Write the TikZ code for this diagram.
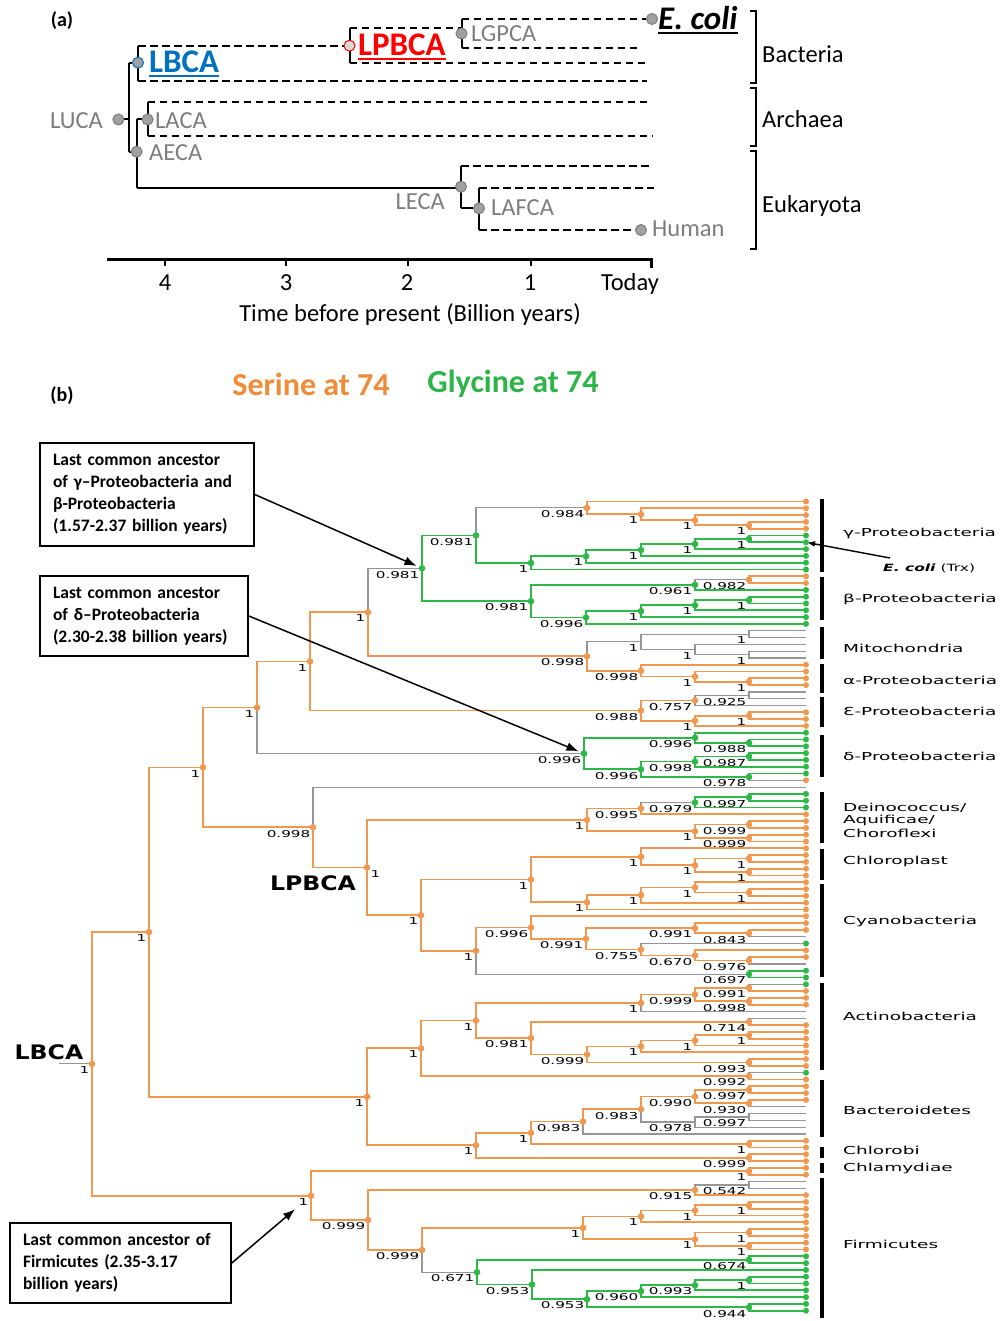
\documentclass[tikz,border=0pt]{standalone}
\usepackage{fontspec}
\usepackage{graphicx}
\setmainfont{Carlito}
\newfontfamily\dvs{DejaVu Sans}
\usetikzlibrary{calc,arrows.meta}
\pgfdeclarelayer{fg}
\pgfsetlayers{main,fg}
\definecolor{colO}{RGB}{241,152,80}
\definecolor{colG}{RGB}{46,184,72}
\definecolor{colN}{RGB}{150,150,150}
\definecolor{tO}{RGB}{240,140,55}
\definecolor{tG}{RGB}{45,180,70}
\definecolor{agray}{RGB}{125,125,125}
\definecolor{adotf}{RGB}{160,160,160}
\definecolor{ablue}{RGB}{0,112,192}
\definecolor{ared}{RGB}{255,0,0}
\def\tmpN{N}
\tikzset{
 brO/.style={draw=colO, line width=1.7pt},
 brG/.style={draw=colG, line width=1.7pt},
 brN/.style={draw=colN, line width=1.2pt},
 dtO/.style={fill=colO},
 dtG/.style={fill=colG},
 dtN/.style={},
 tl/.style={anchor=north east, inner sep=0pt, xshift=-2.5pt, yshift=-2.5pt, font=\dvs\fontsize{9.5}{10}\selectfont},
 clt/.style={anchor=west, inner sep=0pt, font=\dvs\fontsize{11}{12}\selectfont},
 cbar/.style={line width=3.6pt},
 box/.style={draw, line width=1.6pt, align=left, inner xsep=13pt, font=\bfseries\fontsize{17.5}{22}\selectfont},
 arr/.style={-{Latex[length=12pt,width=9pt]}, line width=1.5pt},
 adash/.style={line width=2pt, dash pattern=on 7.5pt off 4.5pt},
 asol/.style={line width=2pt},
 adot/.style={circle, inner sep=0pt, minimum size=11pt, fill=adotf, draw=agray, line width=1pt},
 atxt/.style={inner sep=0pt, font=\fontsize{24.5}{27}\selectfont},
 bigb/.style={inner sep=0pt, font=\bfseries\fontsize{33}{35}\selectfont},
}
\newcommand\tn[8]{%
 \coordinate (tmpa) at ($(#5)!0.5!(#7)$);%
 \coordinate (tmpb) at (#2,0);%
 \coordinate (#1) at (tmpb |- tmpa);%
 \draw[#6] (#1) |- (#5);%
 \draw[#8] (#1) |- (#7);%
 \begin{pgfonlayer}{fg}\path[#3] (#1) circle (3.3pt);\end{pgfonlayer}%
 \node[tl] (lab#1) at (#1) {\scalebox{1.6}[1]{#4}};%
}
\newcommand\clab[3]{\node[clt] (#1) at (843,#2) {\scalebox{1.68}[1]{#3}};}
\begin{document}
\begin{tikzpicture}[x=1pt,y=-1pt]
\useasboundingbox (0,0) rectangle (1008,1321);
\fill[white] (0,0) rectangle (1008,1321);

% ================= Panel (a) =================
\node[inner sep=0pt, font=\bfseries\fontsize{20}{22}\selectfont] (pa) at (62,21) {(a)};
\begin{pgfonlayer}{fg}
\node[adot] (dEcoli) at (652,19) {};
\node[adot] (dLGPCA) at (461.5,33.5) {};
\node[adot, fill=gray!30, draw=ared] (dLPBCA) at (349.5,45.7) {};
\node[adot, draw=ablue] (dLBCA) at (138,62.7) {};
\node[adot] (dLUCA) at (118.4,119.5) {};
\node[adot] (dLACA) at (147.6,119.5) {};
\node[adot] (dAECA) at (136.6,151.7) {};
\node[adot] (dLECA) at (461,186.7) {};
\node[adot] (dLAFCA) at (479,208.3) {};
\node[adot] (dHuman) at (641,230) {};
\end{pgfonlayer}
\coordinate (vLUCA) at (129,119.5);
\draw[asol] (dLUCA) -- (vLUCA);
\draw[asol] (dLBCA -| vLUCA) -- (dAECA -| vLUCA);
\draw[asol] (dLBCA -| vLUCA) -- (dLBCA);
\draw[asol] (dAECA -| vLUCA) -- (dAECA);
% LBCA
\coordinate (lbT) at (138,45.7); \coordinate (lbB) at (138,80.7); \coordinate (eB1) at (647,80.7);
\draw[asol] (lbT) -- (lbB);
\draw[adash] (lbT) -- (dLPBCA);
\draw[adash] (lbB) -- (eB1);
% LPBCA
\coordinate (lpT) at (349.5,28.3); \coordinate (lpB) at (349.5,62.7); \coordinate (eB2) at (647,62.7);
\draw[asol] (lpT) -- (lpB);
\draw[adash] (lpT) -- (lpT -| dLGPCA);
\draw[adash] (lpB) -- (eB2);
% LGPCA
\coordinate (lgT) at (461.5,19); \coordinate (lgB) at (461.5,48.3); \coordinate (eB3) at (641,48.3);
\draw[asol] (lgT) -- (lgB);
\draw[adash] (lgT) -- (dEcoli);
\draw[adash] (lgB) -- (eB3);
% AECA
\coordinate (aeT) at (136.6,119.5); \coordinate (aeB) at (136.6,187.7);
\draw[asol] (aeT) -- (aeB);
\draw[asol] (aeT) -- (dLACA);
\draw[asol] (aeB) -- (aeB -| dLECA);
% LACA
\coordinate (laT) at (147.6,102.3); \coordinate (laB) at (147.6,136); \coordinate (eA1) at (647,102.3); \coordinate (eA2) at (652,136);
\draw[asol] (laT) -- (laB);
\draw[adash] (laT) -- (eA1);
\draw[adash] (laB) -- (eA2);
% LECA
\coordinate (leT) at (461,165.7); \coordinate (leB) at (461,208.3); \coordinate (eE1) at (652,165.7);
\draw[asol] (leT) -- (leB);
\draw[adash] (leT) -- (eE1);
\draw[asol] (leB) -- (dLAFCA);
% LAFCA
\coordinate (lfT) at (479,187.7); \coordinate (lfB) at (479,230); \coordinate (eE2) at (654,187.7);
\draw[asol] (lfT) -- (lfB);
\draw[adash] (lfT) -- (eE2);
\draw[adash] (lfB) -- (dHuman);
% labels
\node[atxt, text=agray, anchor=east] (tLUCA) at (103,121) {LUCA};
\node[atxt, text=agray, anchor=west] (tLACA) at (155,121) {LACA};
\node[atxt, text=agray, anchor=west] (tAECA) at (149,153) {AECA};
\node[atxt, text=agray, anchor=west] (tLGPCA) at (471,34) {LGPCA};
\node[atxt, text=agray, anchor=east] (tLECA) at (445,202) {LECA};
\node[atxt, text=agray, anchor=west] (tLAFCA) at (491,208) {LAFCA};
\node[atxt, text=agray, anchor=west] (tHuman) at (652,229) {Human};
\node[bigb, text=ablue, anchor=west] (tLBCA) at (149,62) {LBCA};
\draw[ablue, line width=1.6pt] ([yshift=-3pt]tLBCA.south west) -- ([yshift=-3pt]tLBCA.south east);
\node[bigb, text=ared, anchor=west] (tLPBCA) at (358,45) {LPBCA};
\draw[ared, line width=1.6pt] ([yshift=-3pt]tLPBCA.south west) -- ([yshift=-3pt]tLPBCA.south east);
\node[bigb, font=\bfseries\itshape\fontsize{33}{35}\selectfont, anchor=west] (tEcoli) at (658,18) {E. coli};
\draw[line width=1.6pt] ([yshift=-3pt]tEcoli.south west) -- ([yshift=-3pt]tEcoli.south east);
% brackets
\draw[line width=1.8pt] (750,11) -- (756,11) -- (756,83.3) -- (750,83.3);
\draw[line width=1.8pt] (750,88.3) -- (756,88.3) -- (756,145.7) -- (750,145.7);
\draw[line width=1.8pt] (750,151) -- (756,151) -- (756,249.3) -- (750,249.3);
\node[atxt, anchor=west] (tBac) at (762,54) {Bacteria};
\node[atxt, anchor=west] (tArc) at (762,119) {Archaea};
\node[atxt, anchor=west] (tEuk) at (762,206) {Eukaryota};
% axis
\coordinate (axL) at (107,259.5); \coordinate (axR) at (652,259.5);
\draw[line width=2.6pt] (axL) -- (axR);
\foreach \xx in {165,286,408,530.7} \draw[line width=2pt] (\xx,259.5) -- (\xx,266);
\draw[line width=2.4pt] (651.5,258.5) -- (651.5,268);
\node[atxt] (k4) at (165,283) {4};
\node[atxt] (k3) at (286,283) {3};
\node[atxt] (k2) at (407,283) {2};
\node[atxt] (k1) at (530,283) {1};
\node[atxt] (kT) at (630,284) {Today};
\node[atxt] (cap) at (410,315) {Time before present (Billion years)};

% ================= Panel (b) =================
\node[inner sep=0pt, font=\bfseries\fontsize{20}{22}\selectfont] (pb) at (62,396) {(b)};
\node[inner sep=0pt, font=\bfseries\fontsize{32}{34}\selectfont, text=tO] (serine) at (311,384) {Serine at 74};
\node[inner sep=0pt, font=\bfseries\fontsize{32}{34}\selectfont, text=tG] (glycine) at (513,384) {Glycine at 74};

% leaves
\foreach \c [count=\i from 0] in {O,O,O,O,O,G,G,G,G,G,G,O,O,G,G,G,G,G,G,N,N,N,N,N,O,O,O,O,N,N,N,O,O,O,G,G,G,G,G,G,G,O,N,G,G,G,%
O,O,O,O,O,O,O,O,O,O,O,O,O,O,O,O,O,O,N,G,O,O,N,G,G,G,O,O,O,N,N,O,O,O,O,O,O,O,G,O,O,O,O,N,N,N,N,N,O,O,O,O,O,O,N,N,%
O,O,O,O,O,O,O,O,O,G,G,G,G,G,G,G,G,G}{%
 \coordinate (L\i) at (806,{501.5+6.8*\i});%
 \ifx\c\tmpN\else\begin{pgfonlayer}{fg}\fill[col\c] (L\i) circle (3pt);\end{pgfonlayer}\fi
}

% gamma
\tn{o1}{749}{dtO}{1}{L3}{brO}{L4}{brO}
\tn{o2}{695}{dtO}{1}{L2}{brO}{o1}{brO}
\tn{o3}{641}{dtO}{1}{L1}{brO}{o2}{brO}
\tn{o4}{587}{dtO}{0.984}{L0}{brO}{o3}{brO}
\tn{g1}{749}{dtG}{1}{L5}{brG}{L6}{brG}
\tn{g2}{695}{dtG}{1}{g1}{brG}{L7}{brG}
\tn{g3}{641}{dtG}{1}{g2}{brG}{L8}{brG}
\tn{g4}{586}{dtG}{1}{g3}{brG}{L9}{brG}
\tn{g5}{531}{dtG}{1}{g4}{brG}{L10}{brG}
\tn{g6}{476}{dtG}{0.981}{o4}{brN}{g5}{brG}
% beta
\tn{b1}{749}{dtO}{0.982}{L11}{brO}{L12}{brO}
\tn{b2}{695}{dtG}{0.961}{b1}{brN}{L13}{brG}
\tn{b3}{749}{dtG}{1}{L14}{brG}{L15}{brG}
\tn{b4}{695}{dtG}{1}{b3}{brG}{L16}{brG}
\tn{b5}{641}{dtG}{1}{b4}{brG}{L17}{brG}
\tn{b6}{586}{dtG}{0.996}{b5}{brG}{L18}{brG}
\tn{b7}{531}{dtG}{0.981}{b2}{brG}{b6}{brG}
\tn{gb}{422}{dtG}{0.981}{g6}{brG}{b7}{brG}
% mitochondria / alpha
\tn{m1}{749}{dtN}{1}{L19}{brN}{L20}{brN}
\tn{m2}{749}{dtN}{1}{L22}{brN}{L23}{brN}
\tn{m3}{695}{dtN}{1}{L21}{brN}{m2}{brN}
\tn{m4}{641}{dtN}{1}{m1}{brN}{m3}{brN}
\tn{a1}{749}{dtO}{1}{L26}{brO}{L27}{brO}
\tn{a2}{695}{dtO}{1}{L25}{brO}{a1}{brO}
\tn{a3}{641}{dtO}{0.998}{L24}{brO}{a2}{brO}
\tn{ma}{587}{dtO}{0.998}{m4}{brN}{a3}{brO}
\tn{p1}{368}{dtO}{1}{gb}{brN}{ma}{brO}
% epsilon
\tn{e1}{749}{dtN}{0.925}{L28}{brN}{L29}{brN}
\tn{e2}{695}{dtO}{0.757}{e1}{brN}{L30}{brN}
\tn{e3}{749}{dtO}{1}{L31}{brO}{L32}{brO}
\tn{e4}{695}{dtO}{1}{e3}{brO}{L33}{brO}
\tn{e5}{641}{dtO}{0.988}{e2}{brO}{e4}{brO}
\tn{p2}{310}{dtO}{1}{p1}{brO}{e5}{brO}
% delta
\tn{d1}{749}{dtG}{0.988}{L35}{brG}{L36}{brG}
\tn{d2}{695}{dtG}{0.996}{L34}{brG}{d1}{brG}
\tn{d3}{749}{dtG}{0.987}{L37}{brG}{L38}{brG}
\tn{d4}{695}{dtG}{0.998}{d3}{brG}{L39}{brG}
\tn{d5}{749}{dtG}{0.978}{L40}{brG}{L41}{brN}
\tn{d6}{641}{dtG}{0.996}{d4}{brG}{d5}{brG}
\tn{d7}{584}{dtG}{0.996}{d2}{brG}{d6}{brG}
\tn{p3}{257}{dtO}{1}{p2}{brO}{d7}{brN}
% deinococcus
\tn{n1}{749}{dtG}{0.997}{L43}{brG}{L44}{brG}
\tn{n2}{695}{dtG}{0.979}{n1}{brG}{L45}{brG}
\tn{n3}{641}{dtO}{0.995}{n2}{brN}{L46}{brO}
\tn{c1}{749}{dtO}{0.999}{L47}{brO}{L48}{brO}
\tn{c2}{749}{dtO}{0.999}{L49}{brO}{L50}{brO}
\tn{c3}{695}{dtO}{1}{c1}{brO}{c2}{brO}
\tn{n4}{587}{dtO}{1}{n3}{brO}{c3}{brO}
% chloroplast
\tn{h1}{749}{dtO}{1}{L52}{brO}{L53}{brO}
\tn{h2}{749}{dtO}{1}{L54}{brO}{L55}{brO}
\tn{h3}{695}{dtO}{1}{h1}{brO}{h2}{brO}
\tn{h4}{641}{dtO}{1}{L51}{brO}{h3}{brO}
\tn{k1}{749}{dtO}{1}{L57}{brO}{L58}{brO}
\tn{k2}{695}{dtO}{1}{L56}{brO}{k1}{brO}
\tn{k3}{641}{dtO}{1}{k2}{brO}{L59}{brO}
\tn{k4}{587}{dtO}{1}{k3}{brO}{L60}{brO}
\tn{h5}{531}{dtO}{1}{h4}{brO}{k4}{brO}
% cyanobacteria
\tn{y1}{749}{dtO}{0.843}{L63}{brO}{L64}{brN}
\tn{y2}{695}{dtO}{0.991}{L62}{brO}{y1}{brO}
\tn{y3}{749}{dtO}{0.976}{L67}{brO}{L68}{brN}
\tn{y4}{695}{dtO}{0.670}{L66}{brO}{y3}{brO}
\tn{y5}{641}{dtO}{0.755}{L65}{brN}{y4}{brO}
\tn{y6}{586}{dtO}{0.991}{y2}{brO}{y5}{brO}
\tn{y7}{531}{dtO}{0.996}{L61}{brO}{y6}{brO}
\tn{y8}{749}{dtG}{0.697}{L69}{brG}{L70}{brG}
\tn{y9}{476}{dtO}{1}{y7}{brO}{y8}{brN}
\tn{y10}{421}{dtO}{1}{h5}{brO}{y9}{brO}
\tn{n5}{367}{dtO}{}{n4}{brO}{y10}{brO}
\node[tl, anchor=north west, xshift=6pt] (labn5b) at (n5) {\scalebox{1.6}[1]{1}};
\tn{p4}{313}{dtO}{0.998}{L42}{brN}{n5}{brO}
\tn{p5}{203}{dtO}{1}{p3}{brO}{p4}{brO}
% actinobacteria
\tn{t1}{749}{dtO}{0.991}{L71}{brN}{L72}{brO}
\tn{t2}{749}{dtO}{0.998}{L73}{brO}{L74}{brO}
\tn{t3}{695}{dtO}{0.999}{t1}{brO}{t2}{brO}
\tn{t4}{641}{dtO}{1}{t3}{brO}{L75}{brN}
\tn{t5}{749}{dtO}{0.714}{L76}{brN}{L77}{brO}
\tn{t6}{749}{dtO}{1}{L78}{brO}{L79}{brO}
\tn{t7}{695}{dtO}{1}{t6}{brO}{L80}{brO}
\tn{t8}{641}{dtO}{1}{t7}{brO}{L81}{brO}
\tn{t9}{749}{dtO}{0.993}{L82}{brO}{L83}{brO}
\tn{t10}{587}{dtO}{0.999}{t8}{brO}{t9}{brO}
\tn{t11}{531}{dtO}{0.981}{t5}{brO}{t10}{brO}
\tn{t12}{476}{dtO}{1}{t4}{brO}{t11}{brO}
\tn{t13}{749}{dtO}{0.992}{L84}{brN}{L85}{brO}
\tn{t14}{421}{dtO}{1}{t12}{brO}{t13}{brO}
% bacteroidetes, chlorobi, chlamydiae
\tn{r1}{749}{dtO}{0.997}{L86}{brO}{L87}{brO}
\tn{r2}{749}{dtO}{0.930}{L88}{brO}{L89}{brN}
\tn{r3}{695}{dtO}{0.990}{r1}{brO}{r2}{brO}
\tn{r4}{749}{dtN}{0.997}{L90}{brN}{L91}{brN}
\tn{r5}{695}{dtN}{0.978}{r4}{brN}{L92}{brN}
\tn{r6}{641}{dtO}{0.983}{r3}{brO}{r5}{brN}
\tn{r7}{583}{dtO}{0.983}{r6}{brO}{L93}{brN}
\tn{r8}{749}{dtO}{1}{L94}{brO}{L95}{brO}
\tn{r9}{531}{dtO}{1}{r7}{brO}{r8}{brO}
\tn{r10}{749}{dtO}{0.999}{L96}{brO}{L97}{brO}
\tn{r11}{476}{dtO}{1}{r9}{brO}{r10}{brO}
\tn{t15}{367}{dtO}{1}{t14}{brO}{r11}{brO}
% firmicutes
\tn{f0}{749}{dtO}{1}{L98}{brO}{L99}{brO}
\tn{f1}{749}{dtN}{0.542}{L100}{brN}{L101}{brN}
\tn{f2}{695}{dtO}{0.915}{f1}{brN}{L102}{brO}
\tn{f3}{749}{dtO}{1}{L103}{brO}{L104}{brO}
\tn{f4}{695}{dtO}{1}{f3}{brO}{L105}{brO}
\tn{f5}{641}{dtO}{1}{f4}{brO}{L106}{brO}
\tn{f6}{749}{dtO}{1}{L107}{brO}{L108}{brO}
\tn{f7}{749}{dtO}{1}{L109}{brO}{L110}{brO}
\tn{f8}{695}{dtO}{1}{f6}{brO}{f7}{brO}
\tn{f9}{583}{dtO}{1}{f5}{brO}{f8}{brO}
\tn{q1}{749}{dtG}{0.674}{L111}{brG}{L112}{brG}
\tn{q2}{749}{dtG}{1}{L114}{brG}{L115}{brG}
\tn{q3}{695}{dtG}{0.993}{q2}{brG}{L116}{brG}
\tn{q4}{641}{dtG}{0.960}{q3}{brG}{L117}{brG}
\tn{q5}{749}{dtG}{0.944}{L118}{brG}{L119}{brG}
\tn{q6}{587}{dtG}{0.953}{q4}{brG}{q5}{brG}
\tn{q7}{532}{dtG}{0.953}{L113}{brG}{q6}{brG}
\tn{q8}{477}{dtG}{0.671}{q1}{brG}{q7}{brG}
\tn{f10}{422}{dtO}{0.999}{f9}{brO}{q8}{brN}
\tn{f11}{368}{dtO}{0.999}{f2}{brO}{f10}{brO}
\tn{f12}{311}{dtO}{1}{f0}{brO}{f11}{brO}
% root
\tn{root1}{149}{dtO}{1}{p5}{brO}{t15}{brO}
\tn{lbca}{92}{dtO}{1}{root1}{brO}{f12}{brO}
\coordinate (stub) at (59,0);
\draw[brN] (lbca) -- (lbca -| stub);
\node[inner sep=0pt, font=\dvs\bfseries\fontsize{20}{22}\selectfont] (bLBCA) at (49,1052) {\scalebox{1.18}[1]{LBCA}};
\node[inner sep=0pt, font=\dvs\bfseries\fontsize{20}{22}\selectfont] (bLPBCA) at (313,883) {\scalebox{1.18}[1]{LPBCA}};

% clade bars and labels
\draw[cbar] (822,499) -- (822,572);
\draw[cbar] (822,577) -- (822,620);
\draw[cbar] (822,627) -- (822,659);
\draw[cbar] (822,664) -- (822,693);
\draw[cbar] (822,697) -- (822,727);
\draw[cbar] (822,735) -- (822,777);
\draw[cbar] (822,792) -- (822,843);
\draw[cbar] (822,849) -- (822,880);
\draw[cbar] (822,884) -- (822,977);
\draw[cbar] (822,983) -- (822,1070);
\draw[cbar] (822,1080) -- (822,1137);
\draw[cbar] (822,1147) -- (822,1158);
\draw[cbar] (822,1163) -- (822,1173);
\draw[cbar] (822,1178) -- (822,1318);
\clab{cGam}{533}{γ-Proteobacteria}
\clab{cBet}{599}{β-Proteobacteria}
\clab{cMit}{648}{Mitochondria}
\clab{cAlp}{680}{α-Proteobacteria}
\clab{cEps}{711}{Ɛ-Proteobacteria}
\clab{cDel}{756}{δ-Proteobacteria}
\clab{cDe1}{808}{Deinococcus/}
\clab{cDe2}{820.5}{Aquificae/}
\clab{cDe3}{833}{Choroflexi}
\clab{cChl}{861}{Chloroplast}
\clab{cCya}{921}{Cyanobacteria}
\clab{cAct}{1016}{Actinobacteria}
\clab{cBac}{1110}{Bacteroidetes}
\clab{cCbi}{1150}{Chlorobi}
\clab{cCla}{1168}{Chlamydiae}
\clab{cFir}{1244}{Firmicutes}
\node[inner sep=0pt, anchor=west, font=\dvs\fontsize{10}{12}\selectfont] (ecl) at (883,568) {\scalebox{1.55}[1]{\textbf{\textit{E. coli}} (Trx)}};
\coordinate (ecs) at (890,558);
\draw[-{Latex[length=8pt,width=6pt]}, line width=1.4pt, shorten >=1pt] (ecs) -- (L6);

% boxes
\node[box, text width=188pt, minimum height=103pt] (box1) at (147,494.5) {Last common ancestor\\of γ–Proteobacteria and\\β-Proteobacteria\\(1.57-2.37 billion years)};
\node[box, text width=182pt, minimum height=80pt] (box2) at (144,616) {Last common ancestor\\of δ–Proteobacteria\\(2.30-2.38 billion years)};
\node[box, text width=195pt, minimum height=80pt] (box3) at (120.5,1263) {Last common ancestor of\\Firmicutes (2.35-3.17\\billion years)};
\draw[arr, shorten >=6pt] (box1.east) -- (gb);
\draw[arr, shorten >=6pt] (box2.east) -- (d7);
\draw[arr, shorten >=21pt] (box3.east) -- (f12);
\end{tikzpicture}
\end{document}
